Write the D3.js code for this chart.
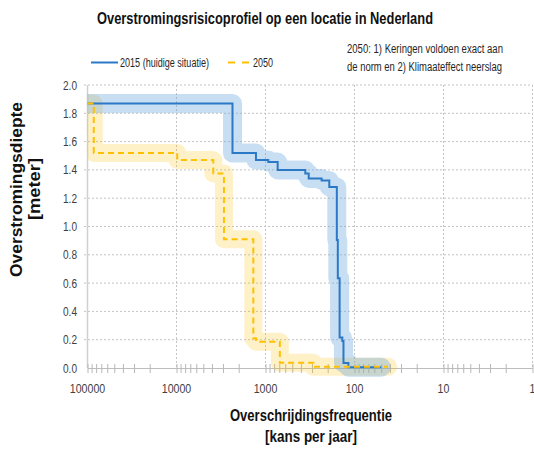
<!DOCTYPE html>
<html>
<head>
<meta charset="utf-8">
<script src="https://cdn.jsdelivr.net/npm/d3@7"></script>
<style>
  body { margin: 0; background: #fff; }
  text { font-family: "Liberation Sans", "Open Sans", sans-serif; }
</style>
</head>
<body>
<svg id="chart" width="534" height="449"></svg>
<script>
// return period (1/jaar) where each step starts, and flood depth (m)
const years2015 = [100000, 2350, 1280, 930, 730, 357, 327, 234, 192, 158, 154, 147, 137, 133, 117, 50];
const depth2015 = [1.87, 1.52, 1.47, 1.455, 1.40, 1.375, 1.34, 1.325, 1.28, 0.905, 0.634, 0.215, 0.19, 0.035, 0.006, 0.006];

const years2050 = [100000, 85000, 9800, 3860, 2930, 1370, 1280, 690, 290, 42];
const depth2050 = [1.87, 1.52, 1.47, 1.375, 0.91, 0.21, 0.186, 0.037, 0.008, 0.008];

const decadeTicks = [100000, 10000, 1000, 100, 10, 1];
const decadeLabels = ["100000", "10000", "1000", "100", "10", "1"];
const depthTicks = [0, 0.2, 0.4, 0.6, 0.8, 1.0, 1.2, 1.4, 1.6, 1.8, 2.0];

const svg = d3.select("#chart");

const x = d3.scaleLog().domain([100000, 1]).range([87.5, 532.5]);
const y = d3.scaleLinear().domain([0, 2]).range([368, 85]);

// squeeze text to the narrow widths of the original
const fit = (sel, w) => sel.attr("textLength", w).attr("lengthAdjust", "spacingAndGlyphs");

svg.append("defs").append("clipPath").attr("id", "plot")
    .append("rect").attr("x", 87.5).attr("y", 70).attr("width", 446).attr("height", 310);

// grid
svg.append("g").selectAll("line").data(depthTicks.filter(d => d > 0)).enter()
    .append("line")
    .attr("x1", 84).attr("x2", 532.5)
    .attr("y1", d => y(d)).attr("y2", d => y(d))
    .attr("stroke", "#c4c4c4").attr("stroke-dasharray", "2,2");

svg.append("g").selectAll("line").data(decadeTicks.slice(1)).enter()
    .append("line")
    .attr("x1", d => x(d)).attr("x2", d => x(d))
    .attr("y1", y(2)).attr("y2", y(0))
    .attr("stroke", "#c4c4c4").attr("stroke-dasharray", "2,2");

// axes lines
svg.append("line").attr("x1", x(100000)).attr("x2", x(100000))
    .attr("y1", y(2)).attr("y2", y(0)).attr("stroke", "#d0d0d0").attr("stroke-width", 1.5);

const xAxis = svg.append("g").attr("transform", `translate(0,${y(0)})`)
    .call(d3.axisBottom(x).tickValues(x.ticks()).tickSize(0).tickFormat(""));
xAxis.select(".domain").attr("stroke", "#bdbdbd").attr("stroke-width", 1.2);
xAxis.selectAll(".tick line").attr("y1", -4).attr("y2", 5).attr("stroke", "#b8b8b8");

svg.append("g").selectAll("text").data(decadeTicks).enter()
    .append("text")
    .attr("x", d => x(d)).attr("y", 393)
    .attr("text-anchor", "middle")
    .attr("font-size", 12).attr("fill", "#404040")
    .text((d, i) => decadeLabels[i])
    .each(function(d, i) { fit(d3.select(this), decadeLabels[i].length * 5.9); });

svg.append("g").selectAll("text").data(depthTicks).enter()
    .append("text")
    .attr("x", 77).attr("y", d => y(d) + 4.5)
    .attr("text-anchor", "end")
    .attr("font-size", 12).attr("fill", "#404040")
    .text(d => d.toFixed(1))
    .call(fit, 14);

// series
const line = (xs, ds) => d3.line()
    .x((d, i) => x(xs[i])).y(d => y(d))
    .curve(d3.curveStepAfter)(ds);

const plot = svg.append("g").attr("clip-path", "url(#plot)");

plot.append("path").attr("d", line(years2050, depth2050))
    .attr("fill", "none").attr("stroke", "#ffc000").attr("stroke-opacity", 0.22)
    .attr("stroke-width", 18).attr("stroke-linejoin", "round").attr("stroke-linecap", "round");
plot.append("path").attr("d", line(years2015, depth2015))
    .attr("fill", "none").attr("stroke", "#6fa8dc").attr("stroke-opacity", 0.38)
    .attr("stroke-width", 19).attr("stroke-linejoin", "round").attr("stroke-linecap", "round");
plot.append("path").attr("d", line(years2015, depth2015))
    .attr("fill", "none").attr("stroke", "#2a78c6").attr("stroke-width", 2);
plot.append("path").attr("d", line(years2050, depth2050))
    .attr("fill", "none").attr("stroke", "#ffc000").attr("stroke-width", 2)
    .attr("stroke-dasharray", "6,4");

// titles
svg.append("text").attr("x", 97).attr("y", 24)
    .attr("font-size", 17).attr("font-weight", "bold")
    .attr("fill", "#111")
    .text("Overstromingsrisicoprofiel op een locatie in Nederland")
    .call(fit, 336);

svg.append("text").attr("x", 230).attr("y", 421)
    .attr("font-size", 17).attr("font-weight", "bold")
    .attr("fill", "#111").text("Overschrijdingsfrequentie")
    .call(fit, 162);
svg.append("text").attr("x", 265).attr("y", 442)
    .attr("font-size", 17).attr("font-weight", "bold")
    .attr("fill", "#111").text("[kans per jaar]")
    .call(fit, 92);

svg.append("text").attr("transform", "translate(22,277) rotate(-90)")
    .attr("font-size", 17).attr("font-weight", "bold")
    .attr("fill", "#111").text("Overstromingsdiepte")
    .call(fit, 175);
svg.append("text").attr("transform", "translate(40,220) rotate(-90)")
    .attr("font-size", 17).attr("font-weight", "bold")
    .attr("fill", "#111").text("[meter]")
    .call(fit, 62);

// legend
const legend = svg.append("g").attr("font-size", 12).attr("fill", "#262626");
legend.append("line").attr("x1", 91).attr("x2", 118).attr("y1", 62.5).attr("y2", 62.5)
    .attr("stroke", "#2a78c6").attr("stroke-width", 2);
legend.append("text").attr("x", 120).attr("y", 67).text("2015 (huidige situatie)").call(fit, 89);
legend.append("line").attr("x1", 228).attr("x2", 249).attr("y1", 62.5).attr("y2", 62.5)
    .attr("stroke", "#ffc000").attr("stroke-width", 2).attr("stroke-dasharray", "7,7");
legend.append("text").attr("x", 253).attr("y", 67).text("2050").call(fit, 20);

legend.append("text").attr("x", 347).attr("y", 53).text("2050: 1) Keringen voldoen  exact aan").call(fit, 156);
legend.append("text").attr("x", 347).attr("y", 71).text("de norm en 2) Klimaateffect neerslag").call(fit, 155);
</script>
</body>
</html>
